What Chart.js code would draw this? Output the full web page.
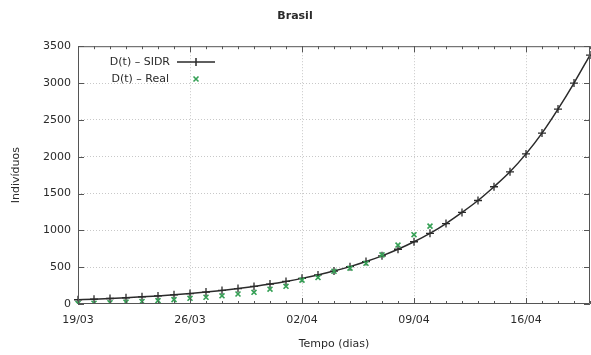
<!DOCTYPE html>
<html>
<head>
<meta charset="utf-8">
<script src="https://cdn.jsdelivr.net/npm/chart.js@4.4.1/dist/chart.umd.min.js"></script>
<style>
html,body{margin:0;padding:0;background:#fff;}
#wrap{width:591px;height:355px;position:relative;}
</style>
</head>
<body>
<div id="wrap"><canvas id="c" width="591" height="355"></canvas></div>
<script>
// Categories: one per day
const dates = ['19/03','20/03','21/03','22/03','23/03','24/03','25/03','26/03','27/03','28/03','29/03','30/03','31/03','01/04','02/04','03/04','04/04','05/04','06/04','07/04','08/04','09/04','10/04','11/04','12/04','13/04','14/04','15/04','16/04','17/04','18/04','19/04','20/04'];
const xTickLabels = ['19/03','26/03','02/04','09/04','16/04'];
const yTicks = [0,500,1000,1500,2000,2500,3000,3500];
// D(t) - SIDR model
const sidr = [58,66,75,85,97,110,125,142,162,184,209,238,270,307,348,395,447,507,576,654,743,845,959,1092,1243,1405,1592,1795,2038,2320,2646,3000,3380];
// D(t) - Real
const real = [7,11,18,25,34,46,59,77,92,111,136,159,201,240,324,359,445,486,553,667,800,941,1057];

const FONT = 'DejaVu Sans';
const TXT = '#2a2a2a';
const GREEN = '#35a055';
const LINE = '#2b2b2b';

const framePlugin = {
  id: 'frame',
  afterDatasetsDraw(chart) {
    const {ctx, chartArea: a, scales} = chart;
    const xs = scales.x, ys = scales.y;
    ctx.save();
    ctx.strokeStyle = '#555';
    ctx.lineWidth = 1;
    ctx.beginPath();
    ctx.rect(a.left + 0.5, a.top + 0.5, a.right - a.left - 1, a.bottom - a.top - 1);
    ctx.stroke();
    ctx.beginPath();
    dates.forEach((d, i) => {
      const px = Math.round(xs.getPixelForValue(i)) + 0.5;
      const len = xTickLabels.includes(d) ? 6 : 3;
      ctx.moveTo(px, a.bottom); ctx.lineTo(px, a.bottom - len);
      ctx.moveTo(px, a.top); ctx.lineTo(px, a.top + len);
    });
    yTicks.forEach(v => {
      const py = Math.round(ys.getPixelForValue(v)) + 0.5;
      ctx.moveTo(a.left, py); ctx.lineTo(a.left + 6, py);
      ctx.moveTo(a.right, py); ctx.lineTo(a.right - 6, py);
    });
    ctx.stroke();
    // legend
    ctx.font = '11px "' + FONT + '"';
    ctx.fillStyle = TXT;
    ctx.textAlign = 'right';
    ctx.textBaseline = 'middle';
    const ds = chart.data.datasets;
    ctx.fillText(ds[0].label, 170, 62);
    ctx.fillText(ds[1].label, 169, 79);
    ctx.strokeStyle = LINE;
    ctx.lineWidth = 1.5;
    ctx.beginPath();
    ctx.moveTo(177, 62); ctx.lineTo(215, 62);
    ctx.moveTo(196, 58); ctx.lineTo(196, 66);
    ctx.stroke();
    ctx.strokeStyle = GREEN;
    ctx.lineWidth = 1.6;
    ctx.beginPath();
    ctx.moveTo(193.5, 76.5); ctx.lineTo(198.5, 81.5);
    ctx.moveTo(198.5, 76.5); ctx.lineTo(193.5, 81.5);
    ctx.stroke();
    ctx.restore();
  }
};

new Chart(document.getElementById('c'), {
  type: 'line',
  data: {
    labels: dates,
    datasets: [
      {
        label: 'D(t) – SIDR',
        data: sidr,
        borderColor: LINE,
        borderWidth: 1.5,
        pointStyle: 'cross',
        pointRadius: 4,
        pointBorderWidth: 1.3,
        pointBorderColor: LINE,
        cubicInterpolationMode: 'monotone',
        fill: false,
        order: 2
      },
      {
        label: 'D(t) – Real',
        data: real,
        showLine: false,
        borderColor: GREEN,
        pointStyle: 'crossRot',
        pointRadius: 3.5,
        pointBorderWidth: 1.6,
        pointBorderColor: GREEN,
        fill: false,
        order: 1
      }
    ]
  },
  options: {
    responsive: false,
    animation: false,
    devicePixelRatio: 1,
    layout: { autoPadding: false, padding: { top: 0, right: 1, left: 0, bottom: 0 } },
    plugins: {
      legend: { display: false },
      tooltip: { enabled: false },
      title: {
        display: true,
        text: 'Brasil',
        color: TXT,
        font: { family: FONT, size: 11, weight: 'bold' },
        padding: { top: 10, bottom: 23 }
      }
    },
    scales: {
      x: {
        type: 'category',
        offset: false,
        grid: {
          drawTicks: false,
          color: ctx => (ctx.index > 0 && ctx.tick && xTickLabels.includes(dates[ctx.index])) ? '#c8c8c8' : 'rgba(0,0,0,0)',
          lineWidth: 1
        },
        border: { display: false, dash: [1, 2] },
        ticks: {
          autoSkip: false,
          maxRotation: 0,
          padding: 10,
          color: TXT,
          font: { family: FONT, size: 11 },
          callback: (v, i) => xTickLabels.includes(dates[i]) ? dates[i] : ''
        },
        title: {
          display: true,
          text: 'Tempo (dias)',
          color: TXT,
          font: { family: FONT, size: 11 },
          padding: { top: 0, bottom: 4 }
        },
        afterFit: s => { s.height = 51; s.paddingLeft = 0; s.paddingRight = 0; }
      },
      y: {
        min: 0,
        max: 3500,
        afterBuildTicks: s => { s.ticks = yTicks.map(v => ({ value: v })); },
        grid: {
          drawTicks: false,
          color: ctx => (ctx.tick && ctx.tick.value > 0 && ctx.tick.value < 3500) ? '#c8c8c8' : 'rgba(0,0,0,0)',
          lineWidth: 1
        },
        border: { display: false, dash: [1, 2] },
        ticks: {
          padding: 7,
          color: TXT,
          font: { family: FONT, size: 11 },
          callback: v => String(v)
        },
        title: {
          display: true,
          text: 'Indivíduos',
          color: TXT,
          font: { family: FONT, size: 11 },
          padding: { top: 10, bottom: 0 }
        },
        afterFit: s => { s.width = 78; }
      }
    }
  },
  plugins: [framePlugin]
});
</script>
</body>
</html>
